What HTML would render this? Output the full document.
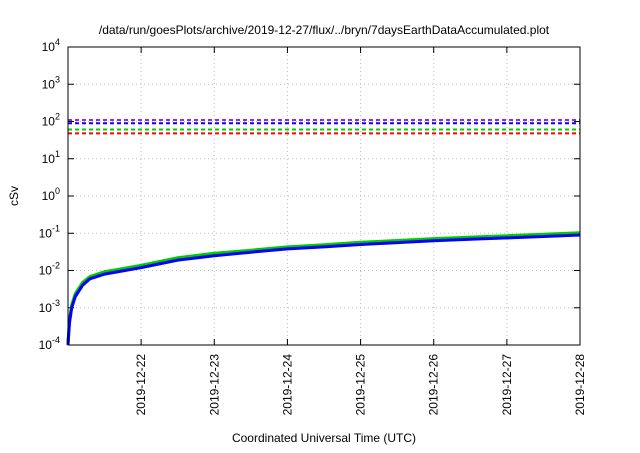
<!DOCTYPE html>
<html><head><meta charset="utf-8"><style>
body{margin:0;background:#fff;}
svg text{font-family:"Liberation Sans",sans-serif;fill:#000;}
</style></head><body>
<svg id="chart" width="640" height="448" viewBox="0 0 640 448" xmlns="http://www.w3.org/2000/svg">
<text x="324" y="34" font-size="12" text-anchor="middle">/data/run/goesPlots/archive/2019-12-27/flux/../bryn/7daysEarthDataAccumulated.plot</text>
<g id="grid"></g>
<g id="axes"></g>
<g id="series"></g>
<rect x="68" y="47" width="512" height="298" fill="none" stroke="#000" stroke-width="1"/>
<text transform="translate(18,196) rotate(-90)" font-size="12" text-anchor="middle">cSv</text>
<text x="324" y="442" font-size="12" text-anchor="middle">Coordinated Universal Time (UTC)</text>
</svg>
<script>
const xTickLabels=["2019-12-22","2019-12-23","2019-12-24","2019-12-25","2019-12-26","2019-12-27","2019-12-28"];
const yTickExps=[-4,-3,-2,-1,0,1,2,3,4];
const days=[0,0.02,0.05,0.1,0.2,0.3,0.5,1,1.5,2,2.5,3,3.5,4,4.5,5,5.5,6,6.5,7];
const blueVals=[0.0001,0.0004,0.001,0.002,0.004,0.006,0.008,0.012,0.019,0.025,0.031,0.038,0.043,0.05,0.056,0.063,0.069,0.075,0.082,0.09];
const greenVals=[0.00012,0.0005,0.0012,0.0024,0.0048,0.0069,0.0093,0.0138,0.022,0.029,0.035,0.043,0.049,0.057,0.064,0.072,0.079,0.086,0.094,0.103];
const redVals=[0.00011,0.00045,0.0011,0.0022,0.0044,0.0065,0.0087,0.013,0.0205,0.027,0.033,0.041,0.046,0.054,0.06,0.068,0.074,0.081,0.088,0.097];
const thresholdVals=[110,90,61,48];
const thresholdColors=["#a020f0","#0000ff","#00cc00","#ff0000"];
const L=68,R=580,T=47,B=345;
const x=d=>L+d*(R-L)/7;
const y=v=>B-(Math.log10(v)+4)*(B-T)/8;
const ns="http://www.w3.org/2000/svg";
function mk(tag,attrs,parent){const e=document.createElementNS(ns,tag);for(const k in attrs)e.setAttribute(k,attrs[k]);document.getElementById(parent).appendChild(e);return e;}
yTickExps.forEach(p=>{
  const yy=y(Math.pow(10,p));
  if(p>-4&&p<4){const g=mk('line',{x1:L,x2:R,y1:yy,y2:yy,stroke:'#bbb','stroke-dasharray':'1,3'},'grid');
  
  }
  const t1=mk('line',{x1:L,x2:L+6,y1:yy,y2:yy,stroke:'#000'},'axes');
  
  
  const t2=mk('line',{x1:R-6,x2:R,y1:yy,y2:yy,stroke:'#000'},'axes');
  
  
  const tx=mk('text',{x:L-8,y:yy+4,'font-size':12,'text-anchor':'end'},'axes');
  
  
  tx.innerHTML='10<tspan dy="-6" font-size="9">'+p+'</tspan>';
});
xTickLabels.forEach((lab,i)=>{
  const xx=x(i+1);
  if(i<6){const g=mk('line',{x1:xx,x2:xx,y1:T,y2:B,stroke:'#bbb','stroke-dasharray':'1,3'},'grid');
  
  }
  const t1=mk('line',{x1:xx,x2:xx,y1:B,y2:B-6,stroke:'#000'},'axes');
  
  
  const t2=mk('line',{x1:xx,x2:xx,y1:T,y2:T+6,stroke:'#000'},'axes');
  
  
  const tx=mk('text',{x:0,y:0,'font-size':12,'text-anchor':'end',transform:'translate('+(xx+4)+','+(B+9)+') rotate(-90)'},'axes');
  
  
  tx.textContent=lab;
});
thresholdVals.forEach((v,i)=>{
  const l=mk('line',{x1:L,x2:R,y1:y(v),y2:y(v),stroke:thresholdColors[i],'stroke-width':2,'stroke-dasharray':'4,3'},'series');
  
  
});
function path(vals,color,w,name){
  const d=days.map((t,i)=>(i?'L':'M')+x(t).toFixed(1)+','+y(vals[i]).toFixed(1)).join(' ');
  const p=mk('path',{d:d,fill:'none',stroke:color,'stroke-width':w,'stroke-linejoin':'round'},'series');
  
  
}
path(redVals,'#e06020',3,'series-red');
path(greenVals,'#00cc00',3,'series-green');
path(blueVals,'#0000ff',3,'series-blue');
</script>
</body></html>
